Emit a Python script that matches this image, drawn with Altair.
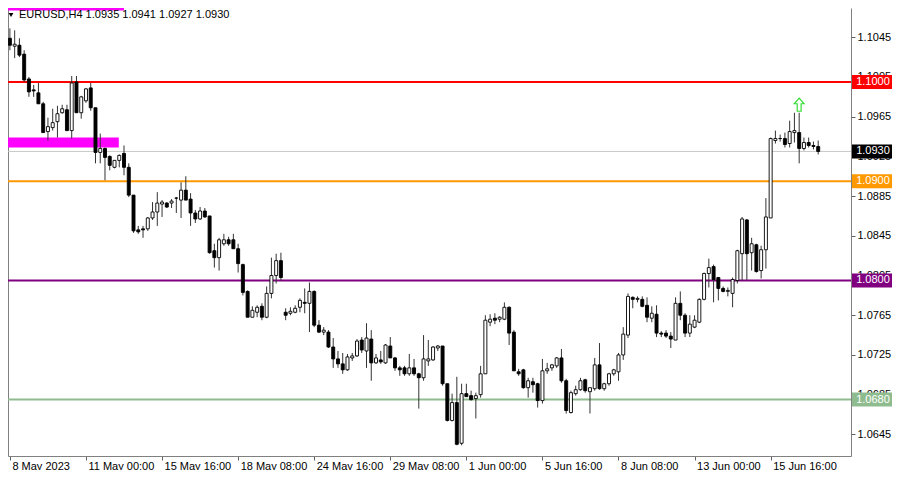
import altair as alt
import pandas as pd

# ---- candle data (EURUSD H4) ----
opens = [
    1.1044, 1.1036, 1.1037, 1.1028, 1.1003, 1.0992, 1.0989, 1.0978, 1.0950, 1.0954,
    1.0960, 1.0969, 1.0972, 1.0951, 1.1000, 1.0969, 1.0981, 1.0994, 1.0974, 1.0929,
    1.0933, 1.0925, 1.0914, 1.0921, 1.0928, 1.0914, 1.0886, 1.0851, 1.0852, 1.0852,
    1.0863, 1.0869, 1.0877, 1.0878, 1.0878, 1.0883, 1.0881, 1.0891, 1.0882, 1.0868,
    1.0862, 1.0870, 1.0865, 1.0830, 1.0823, 1.0837, 1.0841, 1.0841, 1.0832, 1.0816,
    1.0789, 1.0763, 1.0768, 1.0774, 1.0763, 1.0787, 1.0805, 1.0820, 1.0768, 1.0767,
    1.0768, 1.0773, 1.0778, 1.0777, 1.0789, 1.0755, 1.0748, 1.0748, 1.0733, 1.0721,
    1.0716, 1.0710, 1.0722, 1.0724, 1.0740, 1.0729, 1.0741, 1.0717, 1.0720, 1.0717,
    1.0734, 1.0722, 1.0712, 1.0712, 1.0706, 1.0712, 1.0706, 1.0702, 1.0719, 1.0720,
    1.0732, 1.0734, 1.0696, 1.0659, 1.0677, 1.0636, 1.0686, 1.0684, 1.0681, 1.0685,
    1.0706, 1.0758, 1.0762, 1.0761, 1.0761, 1.0773, 1.0748, 1.0708, 1.0710, 1.0692,
    1.0698, 1.0696, 1.0679, 1.0709, 1.0712, 1.0714, 1.0722, 1.0699, 1.0667, 1.0686,
    1.0690, 1.0700, 1.0688, 1.0691, 1.0715, 1.0691, 1.0696, 1.0706, 1.0708, 1.0725,
    1.0745, 1.0783, 1.0781, 1.0781, 1.0775, 1.0762, 1.0766, 1.0747, 1.0747, 1.0744,
    1.0740, 1.0777, 1.0765, 1.0747, 1.0753, 1.0758, 1.0781, 1.0807, 1.0814, 1.0803,
    1.0792, 1.0789, 1.0787, 1.0800, 1.0827, 1.0861, 1.0828, 1.0836, 1.0810, 1.0831,
    1.0863, 1.0941, 1.0943, 1.0943, 1.0938, 1.0949, 1.0949, 1.0933, 1.0939, 1.0936,
    1.0935,
]
highs = [
    1.1054, 1.1052, 1.1044, 1.1032, 1.1005, 1.0997, 1.0999, 1.0980, 1.0964, 1.0973,
    1.0976, 1.0977, 1.0977, 1.1006, 1.1006, 1.0986, 1.0994, 1.0999, 1.0974, 1.0948,
    1.0934, 1.0926, 1.0921, 1.0927, 1.0936, 1.0918, 1.0886, 1.0855, 1.0855, 1.0864,
    1.0879, 1.0889, 1.0881, 1.0879, 1.0882, 1.0884, 1.0899, 1.0905, 1.0888, 1.0871,
    1.0874, 1.0873, 1.0865, 1.0837, 1.0843, 1.0847, 1.0844, 1.0847, 1.0837, 1.0817,
    1.0790, 1.0774, 1.0775, 1.0777, 1.0794, 1.0823, 1.0827, 1.0828, 1.0772, 1.0773,
    1.0775, 1.0782, 1.0792, 1.0798, 1.0790, 1.0760, 1.0753, 1.0750, 1.0742, 1.0729,
    1.0727, 1.0726, 1.0727, 1.0741, 1.0743, 1.0757, 1.0750, 1.0726, 1.0729, 1.0736,
    1.0743, 1.0723, 1.0714, 1.0714, 1.0726, 1.0721, 1.0707, 1.0745, 1.0740, 1.0734,
    1.0735, 1.0734, 1.0696, 1.0686, 1.0703, 1.0696, 1.0696, 1.0689, 1.0687, 1.0714,
    1.0765, 1.0766, 1.0767, 1.0764, 1.0778, 1.0774, 1.0750, 1.0711, 1.0711, 1.0702,
    1.0702, 1.0697, 1.0721, 1.0717, 1.0716, 1.0723, 1.0731, 1.0701, 1.0689, 1.0694,
    1.0702, 1.0701, 1.0692, 1.0722, 1.0737, 1.0697, 1.0707, 1.0711, 1.0727, 1.0753,
    1.0787, 1.0784, 1.0784, 1.0784, 1.0783, 1.0774, 1.0775, 1.0749, 1.0750, 1.0748,
    1.0783, 1.0789, 1.0767, 1.0765, 1.0765, 1.0782, 1.0808, 1.0822, 1.0816, 1.0803,
    1.0794, 1.0793, 1.0803, 1.0831, 1.0864, 1.0862, 1.0843, 1.0837, 1.0835, 1.0883,
    1.0944, 1.0951, 1.0947, 1.0949, 1.0961, 1.0969, 1.0969, 1.0944, 1.0944, 1.0940,
    1.0941,
]
lows = [
    1.1032, 1.1024, 1.1025, 1.1000, 1.0985, 1.0985, 1.0978, 1.0949, 1.0941, 1.0951,
    1.0944, 1.0968, 1.0951, 1.0943, 1.0969, 1.0963, 1.0979, 1.0971, 1.0918, 1.0918,
    1.0901, 1.0911, 1.0913, 1.0914, 1.0906, 1.0884, 1.0848, 1.0847, 1.0843, 1.0850,
    1.0861, 1.0855, 1.0864, 1.0873, 1.0873, 1.0868, 1.0863, 1.0881, 1.0855, 1.0858,
    1.0861, 1.0863, 1.0827, 1.0813, 1.0810, 1.0835, 1.0835, 1.0832, 1.0808, 1.0785,
    1.0763, 1.0763, 1.0763, 1.0760, 1.0762, 1.0782, 1.0797, 1.0800, 1.0760, 1.0765,
    1.0767, 1.0768, 1.0767, 1.0748, 1.0753, 1.0747, 1.0745, 1.0732, 1.0712, 1.0712,
    1.0706, 1.0709, 1.0719, 1.0723, 1.0727, 1.0712, 1.0699, 1.0716, 1.0716, 1.0716,
    1.0722, 1.0709, 1.0704, 1.0704, 1.0704, 1.0704, 1.0671, 1.0699, 1.0714, 1.0719,
    1.0729, 1.0694, 1.0658, 1.0658, 1.0634, 1.0634, 1.0683, 1.0679, 1.0661, 1.0682,
    1.0706, 1.0754, 1.0756, 1.0758, 1.0760, 1.0735, 1.0709, 1.0704, 1.0691, 1.0682,
    1.0687, 1.0672, 1.0676, 1.0706, 1.0709, 1.0712, 1.0697, 1.0666, 1.0666, 1.0684,
    1.0689, 1.0687, 1.0666, 1.0689, 1.0690, 1.0689, 1.0694, 1.0704, 1.0699, 1.0720,
    1.0742, 1.0772, 1.0778, 1.0773, 1.0758, 1.0758, 1.0743, 1.0743, 1.0742, 1.0732,
    1.0740, 1.0760, 1.0743, 1.0743, 1.0752, 1.0757, 1.0780, 1.0793, 1.0778, 1.0780,
    1.0788, 1.0784, 1.0773, 1.0797, 1.0800, 1.0800, 1.0810, 1.0808, 1.0802, 1.0812,
    1.0863, 1.0938, 1.0940, 1.0934, 1.0934, 1.0939, 1.0918, 1.0931, 1.0934, 1.0932,
    1.0927,
]
closes = [
    1.1037, 1.1038, 1.1027, 1.1002, 1.0990, 1.0991, 1.0978, 1.0949, 1.0955, 1.0959,
    1.0968, 1.0973, 1.0951, 1.0999, 1.0969, 1.0985, 1.0993, 1.0974, 1.0929, 1.0933,
    1.0924, 1.0916, 1.0921, 1.0926, 1.0914, 1.0886, 1.0850, 1.0849, 1.0851, 1.0863,
    1.0869, 1.0878, 1.0879, 1.0874, 1.0880, 1.0883, 1.0891, 1.0881, 1.0868, 1.0862,
    1.0870, 1.0864, 1.0828, 1.0823, 1.0841, 1.0841, 1.0837, 1.0832, 1.0817, 1.0788,
    1.0763, 1.0770, 1.0773, 1.0763, 1.0787, 1.0805, 1.0820, 1.0803, 1.0765, 1.0769,
    1.0772, 1.0780, 1.0777, 1.0789, 1.0755, 1.0748, 1.0750, 1.0733, 1.0721, 1.0716,
    1.0710, 1.0723, 1.0724, 1.0739, 1.0730, 1.0742, 1.0717, 1.0722, 1.0718, 1.0735,
    1.0722, 1.0712, 1.0710, 1.0706, 1.0712, 1.0706, 1.0702, 1.0721, 1.0721, 1.0733,
    1.0734, 1.0696, 1.0659, 1.0677, 1.0635, 1.0686, 1.0683, 1.0680, 1.0684, 1.0706,
    1.0760, 1.0761, 1.0760, 1.0763, 1.0773, 1.0747, 1.0709, 1.0706, 1.0692, 1.0699,
    1.0695, 1.0679, 1.0709, 1.0711, 1.0715, 1.0722, 1.0699, 1.0669, 1.0687, 1.0690,
    1.0699, 1.0689, 1.0692, 1.0715, 1.0691, 1.0696, 1.0706, 1.0710, 1.0725, 1.0746,
    1.0784, 1.0781, 1.0782, 1.0774, 1.0763, 1.0767, 1.0747, 1.0746, 1.0744, 1.0741,
    1.0777, 1.0765, 1.0747, 1.0756, 1.0760, 1.0781, 1.0807, 1.0813, 1.0801, 1.0792,
    1.0789, 1.0790, 1.0801, 1.0830, 1.0862, 1.0827, 1.0837, 1.0809, 1.0831, 1.0864,
    1.0943, 1.0943, 1.0943, 1.0937, 1.0950, 1.0951, 1.0933, 1.0939, 1.0936, 1.0935,
    1.0930,
]

x_tick_idx = [0, 16, 32, 48, 64, 80, 96, 112, 128, 144, 160]
x_tick_labels = ["8 May 2023", "11 May 00:00", "15 May 16:00", "18 May 08:00",
                 "24 May 16:00", "29 May 08:00", "1 Jun 00:00", "5 Jun 16:00",
                 "8 Jun 08:00", "13 Jun 00:00", "15 Jun 16:00"]
y_tick_values = [1.0645, 1.0685, 1.0725, 1.0765, 1.0805, 1.0845, 1.0885,
                 1.0925, 1.0965, 1.1005, 1.1045]

level_prices = [1.1000, 1.0900, 1.0800, 1.0680]
level_colors = ["#ff0000", "#ff9900", "#800080", "#8fbc8f"]
current_price = 1.0930

zone_x1 = [-0.4, -0.4]
zone_x2 = [22.9, 24.0]
zone_y1 = [1.0944, 1.1072]
zone_y2 = [1.0934, 1.1100]

signal_idx = [166]
signal_price = [1.0969]

title_text = "EURUSD,H4  1.0935 1.0941 1.0927 1.0930"

FONT = "Liberation Sans"
W, H = 843, 448

n = len(closes)
candles = pd.DataFrame({
    "i": list(range(n)),
    "open": opens, "high": highs, "low": lows, "close": closes,
})
candles["fill"] = ["#ffffff" if c >= o else "#000000" for o, c in zip(opens, closes)]

xscale = alt.Scale(domain=[-0.4, 176.9], nice=False, zero=False, padding=0)
yscale = alt.Scale(domain=[1.06232, 1.10745], nice=False, zero=False, padding=0)

label_expr = "[" + ",".join("'" + s + "'" for s in x_tick_labels) + "][indexof([" + \
    ",".join(str(v) for v in x_tick_idx) + "], datum.value)]"

x_axis = alt.Axis(orient="bottom", values=x_tick_idx, labelExpr=label_expr,
                  labelAlign="left", labelBaseline="top", labelPadding=0,
                  labelOffset=2, tickSize=4, labelFont=FONT, labelFontSize=11,
                  labelColor="#000000", grid=False, title=None,
                  labelOverlap=False, labelFlush=False, labelBound=False,
                  domainColor="#808080", tickColor="#606060")
y_left = alt.Axis(orient="left", labels=False, ticks=False, domain=True,
                  domainColor="#808080", grid=False, title=None,
                  minExtent=0, maxExtent=0)
y_right = alt.Axis(orient="right", values=y_tick_values, format=".4f",
                   labelFont=FONT, labelFontSize=11, labelColor="#000000",
                   tickSize=4, labelPadding=2, tickColor="#606060",
                   domainColor="#808080", grid=False, title=None,
                   labelOverlap=False, labelFlush=False, labelBound=False)

zones = alt.Chart(pd.DataFrame({"x1": zone_x1, "x2": zone_x2,
                                "y1": zone_y1, "y2": zone_y2})).mark_rect(
    color="#ff00ff", clip=True).encode(
    x=alt.X("x1:Q", scale=xscale, axis=x_axis), x2="x2:Q",
    y=alt.Y("y1:Q", scale=yscale, axis=y_left), y2="y2:Q")

cur_line = alt.Chart(pd.DataFrame({"p": [current_price]})).mark_rule(
    color="#c8c8c8", strokeWidth=1).encode(
    y=alt.Y("p:Q", scale=yscale, axis=None))

levels = alt.Chart(pd.DataFrame({"p": level_prices, "c": level_colors})).mark_rule(
    strokeWidth=2).encode(
    y=alt.Y("p:Q", scale=yscale, axis=None),
    color=alt.Color("c:N", scale=None))

wicks = alt.Chart(candles).mark_rule(color="#333333", strokeWidth=1).encode(
    x=alt.X("i:Q", scale=xscale, axis=x_axis),
    y=alt.Y("low:Q", scale=yscale, axis=y_right), y2="high:Q")

bodies = alt.Chart(candles).mark_bar(size=3, stroke="#000000", strokeWidth=0.9).encode(
    x=alt.X("i:Q", scale=xscale, axis=x_axis),
    y=alt.Y("open:Q", scale=yscale, axis=None), y2="close:Q",
    fill=alt.Fill("fill:N", scale=None))

arrow_path = "M0,-1 L0.75,-0.15 L0.3,-0.15 L0.3,1 L-0.3,1 L-0.3,-0.15 L-0.75,-0.15 Z"
arrow = alt.Chart(pd.DataFrame({"i": signal_idx, "p": signal_price})).mark_point(
    shape=arrow_path, size=170, filled=False, stroke="#33dd33", strokeWidth=1.2,
    yOffset=-8, opacity=1).encode(
    x=alt.X("i:Q", scale=xscale, axis=x_axis),
    y=alt.Y("p:Q", scale=yscale, axis=None))

box_prices = level_prices + [current_price]
box_colors = level_colors + ["#000000"]
boxes_df = pd.DataFrame({"p": box_prices, "c": box_colors,
                         "t": [f"{p:.4f}" for p in box_prices]})
boxes = alt.Chart(boxes_df).mark_rect(yOffset=-7, y2Offset=7).encode(
    x=alt.value(844), x2=alt.value(884),
    y=alt.Y("p:Q", scale=yscale, axis=None), y2="p:Q",
    color=alt.Color("c:N", scale=None))
box_text = alt.Chart(boxes_df).mark_text(
    color="#ffffff", font=FONT, fontSize=11, align="center", baseline="middle").encode(
    x=alt.value(865), y=alt.Y("p:Q", scale=yscale, axis=None), text="t:N")

title = alt.Chart(pd.DataFrame({"t": [title_text]})).mark_text(
    align="left", baseline="middle", font=FONT, fontSize=11, color="#000000").encode(
    x=alt.value(11), y=alt.value(7), text="t:N")
tri = alt.Chart(pd.DataFrame({"t": [title_text]})).mark_point(
    shape="triangle-down", filled=True, color="#000000", size=24, opacity=1).encode(
    x=alt.value(3), y=alt.value(7))

chart = alt.layer(
    zones, cur_line, levels, wicks, bodies, arrow, boxes, box_text, title, tri
).resolve_axis(y="independent").properties(
    width=W, height=H,
    autosize=alt.AutoSizeParams(type="none"),
    padding={"left": 0, "top": 0, "right": 41, "bottom": 14},
    background="#ffffff",
).configure_view(stroke=None)

chart.save("out.html", embed_options={"renderer": "svg", "actions": False})
